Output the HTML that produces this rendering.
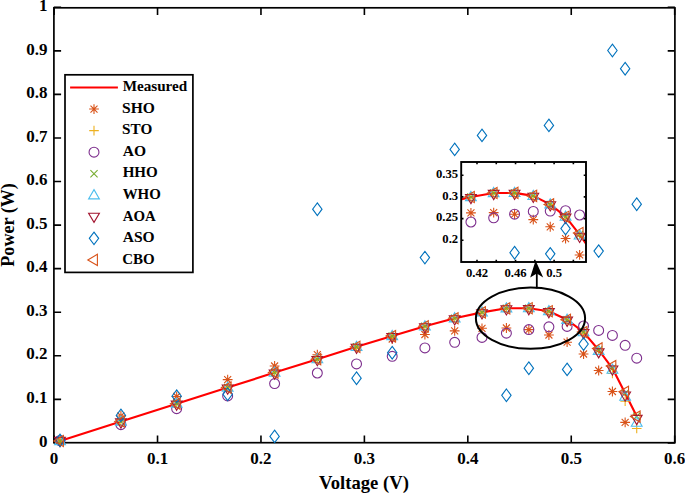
<!DOCTYPE html>
<html><head><meta charset="utf-8"><title>PV curve</title>
<style>html,body{margin:0;padding:0;background:#fff;}body{width:685px;height:495px;overflow:hidden;font-family:"Liberation Serif",serif;}svg{display:block;}</style>
</head><body>
<svg width="685" height="495" viewBox="0 0 685 495">
<rect width="685" height="495" fill="#fff"/>
<path d="M54.1 442.7V435.5M54.1 7.8V15M157.53 442.7V435.5M157.53 7.8V15M260.96 442.7V435.5M260.96 7.8V15M364.39 442.7V435.5M364.39 7.8V15M467.82 442.7V435.5M467.82 7.8V15M571.25 442.7V435.5M571.25 7.8V15M674.68 442.7V435.5M674.68 7.8V15M53.9 442.9H61.1M674.9 442.9H667.7M53.9 399.34H61.1M674.9 399.34H667.7M53.9 355.78H61.1M674.9 355.78H667.7M53.9 312.22H61.1M674.9 312.22H667.7M53.9 268.66H61.1M674.9 268.66H667.7M53.9 225.1H61.1M674.9 225.1H667.7M53.9 181.54H61.1M674.9 181.54H667.7M53.9 137.98H61.1M674.9 137.98H667.7M53.9 94.42H61.1M674.9 94.42H667.7M53.9 50.86H61.1M674.9 50.86H667.7M53.9 7.3H61.1M674.9 7.3H667.7" stroke="#000" stroke-width="1.6" fill="none"/>
<rect x="53.9" y="7.8" width="621" height="434.9" fill="none" stroke="#000" stroke-width="1.7"/>
<g font-family="Liberation Serif" font-weight="bold" font-size="17" fill="#000"><text x="47.5" y="446.6" text-anchor="end">0</text><text x="47.5" y="403.04" text-anchor="end">0.1</text><text x="47.5" y="359.48" text-anchor="end">0.2</text><text x="47.5" y="315.92" text-anchor="end">0.3</text><text x="47.5" y="272.36" text-anchor="end">0.4</text><text x="47.5" y="228.8" text-anchor="end">0.5</text><text x="47.5" y="185.24" text-anchor="end">0.6</text><text x="47.5" y="141.68" text-anchor="end">0.7</text><text x="47.5" y="98.12" text-anchor="end">0.8</text><text x="47.5" y="54.56" text-anchor="end">0.9</text><text x="47.5" y="11" text-anchor="end">1</text><text x="54.1" y="464.1" text-anchor="middle">0</text><text x="157.53" y="464.1" text-anchor="middle">0.1</text><text x="260.96" y="464.1" text-anchor="middle">0.2</text><text x="364.39" y="464.1" text-anchor="middle">0.3</text><text x="467.82" y="464.1" text-anchor="middle">0.4</text><text x="571.25" y="464.1" text-anchor="middle">0.5</text><text x="674.68" y="464.1" text-anchor="middle">0.6</text></g>
<g font-family="Liberation Serif" font-weight="bold" fill="#000"><text transform="translate(318.99 489.40) scale(1.0426 1)" font-size="17.9">Voltage (V)</text><text transform="translate(14.30 266.71) rotate(-90) scale(1.0109 1)" font-size="17.9">Power (W)</text></g>
<polyline points="60,441.01 120.92,421.51 176.66,403.72 227.66,387.57 274.61,372.6 317.33,359.15 356.53,346.86 392.21,336.03 424.9,326.32 454.68,318.31 481.99,312.35 506.4,308.32 528.84,308.21 548.91,311.2 567.11,319.76 583.56,332.08 598.66,349.99 612.42,368.28 625.14,393.29 636.72,416.2" fill="none" stroke="#FF0000" stroke-width="2.1" stroke-linejoin="round"/>
<g fill="none" stroke-width="1.1"><path d="M55.1 440.5H64.9M60 435.6V445.4M56.5 437L63.5 444M56.5 444L63.5 437" stroke="#D95319"/><path d="M116.02 416H125.82M120.92 411.1V420.9M117.42 412.5L124.42 419.5M117.42 419.5L124.42 412.5" stroke="#D95319"/><path d="M171.76 396.5H181.56M176.66 391.6V401.4M173.16 393L180.16 400M173.16 400L180.16 393" stroke="#D95319"/><path d="M222.76 379.6H232.56M227.66 374.7V384.5M224.16 376.1L231.16 383.1M224.16 383.1L231.16 376.1" stroke="#D95319"/><path d="M269.71 366H279.51M274.61 361.1V370.9M271.11 362.5L278.11 369.5M271.11 369.5L278.11 362.5" stroke="#D95319"/><path d="M312.43 354.7H322.23M317.33 349.8V359.6M313.83 351.2L320.83 358.2M313.83 358.2L320.83 351.2" stroke="#D95319"/><path d="M351.63 347.1H361.43M356.53 342.2V352M353.03 343.6L360.03 350.6M353.03 350.6L360.03 343.6" stroke="#D95319"/><path d="M387.31 339H397.11M392.21 334.1V343.9M388.71 335.5L395.71 342.5M388.71 342.5L395.71 335.5" stroke="#D95319"/><path d="M420 334.5H429.8M424.9 329.6V339.4M421.4 331L428.4 338M421.4 338L428.4 331" stroke="#D95319"/><path d="M449.78 330.9H459.58M454.68 326V335.8M451.18 327.4L458.18 334.4M451.18 334.4L458.18 327.4" stroke="#D95319"/><path d="M477.09 328.3H486.89M481.99 323.4V333.2M478.49 324.8L485.49 331.8M478.49 331.8L485.49 324.8" stroke="#D95319"/><path d="M501.5 328H511.3M506.4 323.1V332.9M502.9 324.5L509.9 331.5M502.9 331.5L509.9 324.5" stroke="#D95319"/><path d="M523.94 329.6H533.74M528.84 324.7V334.5M525.34 326.1L532.34 333.1M525.34 333.1L532.34 326.1" stroke="#D95319"/><path d="M544.01 335H553.81M548.91 330.1V339.9M545.41 331.5L552.41 338.5M545.41 338.5L552.41 331.5" stroke="#D95319"/><path d="M562.21 342.2H572.01M567.11 337.3V347.1M563.61 338.7L570.61 345.7M563.61 345.7L570.61 338.7" stroke="#D95319"/><path d="M578.66 354H588.46M583.56 349.1V358.9M580.06 350.5L587.06 357.5M580.06 357.5L587.06 350.5" stroke="#D95319"/><path d="M593.76 370.5H603.56M598.66 365.6V375.4M595.16 367L602.16 374M595.16 374L602.16 367" stroke="#D95319"/><path d="M607.52 391.5H617.32M612.42 386.6V396.4M608.92 388L615.92 395M608.92 395L615.92 388" stroke="#D95319"/><path d="M620.24 422.4H630.04M625.14 417.5V427.3M621.64 418.9L628.64 425.9M621.64 425.9L628.64 418.9" stroke="#D95319"/></g>
<g fill="none" stroke-width="1.1"><path d="M55.2 441.01H64.8M60 436.21V445.81" stroke="#EDB120"/><path d="M116.12 421.51H125.72M120.92 416.71V426.31" stroke="#EDB120"/><path d="M171.86 403.72H181.46M176.66 398.92V408.52" stroke="#EDB120"/><path d="M222.86 387.57H232.46M227.66 382.77V392.37" stroke="#EDB120"/><path d="M269.81 372.6H279.41M274.61 367.8V377.4" stroke="#EDB120"/><path d="M312.53 359.15H322.13M317.33 354.35V363.95" stroke="#EDB120"/><path d="M351.73 346.86H361.33M356.53 342.06V351.66" stroke="#EDB120"/><path d="M387.41 336.03H397.01M392.21 331.23V340.83" stroke="#EDB120"/><path d="M420.1 326.32H429.7M424.9 321.52V331.12" stroke="#EDB120"/><path d="M449.88 318.31H459.48M454.68 313.51V323.11" stroke="#EDB120"/><path d="M477.19 312.35H486.79M481.99 307.55V317.15" stroke="#EDB120"/><path d="M501.6 308.32H511.2M506.4 303.52V313.12" stroke="#EDB120"/><path d="M524.04 308.21H533.64M528.84 303.41V313.01" stroke="#EDB120"/><path d="M544.11 311.2H553.71M548.91 306.4V316" stroke="#EDB120"/><path d="M562.31 319.76H571.91M567.11 314.96V324.56" stroke="#EDB120"/><path d="M578.76 332.08H588.36M583.56 327.28V336.88" stroke="#EDB120"/><path d="M593.86 349.99H603.46M598.66 345.19V354.79" stroke="#EDB120"/><path d="M607.62 373.5H617.22M612.42 368.7V378.3" stroke="#EDB120"/><path d="M620.34 401.3H629.94M625.14 396.5V406.1" stroke="#EDB120"/><path d="M631.92 428.5H641.52M636.72 423.7V433.3" stroke="#EDB120"/></g>
<g fill="none" stroke-width="1.1"><circle cx="60" cy="440.5" r="4.95" stroke="#7E2F8E"/><circle cx="120.92" cy="424.7" r="4.95" stroke="#7E2F8E"/><circle cx="176.66" cy="408.7" r="4.95" stroke="#7E2F8E"/><circle cx="227.66" cy="395.9" r="4.95" stroke="#7E2F8E"/><circle cx="274.61" cy="383.6" r="4.95" stroke="#7E2F8E"/><circle cx="317.33" cy="373" r="4.95" stroke="#7E2F8E"/><circle cx="356.53" cy="363.9" r="4.95" stroke="#7E2F8E"/><circle cx="392.21" cy="356.3" r="4.95" stroke="#7E2F8E"/><circle cx="424.9" cy="347.9" r="4.95" stroke="#7E2F8E"/><circle cx="454.68" cy="342.3" r="4.95" stroke="#7E2F8E"/><circle cx="481.99" cy="337.4" r="4.95" stroke="#7E2F8E"/><circle cx="506.4" cy="333.2" r="4.95" stroke="#7E2F8E"/><circle cx="528.84" cy="329.6" r="4.95" stroke="#7E2F8E"/><circle cx="548.91" cy="326.8" r="4.95" stroke="#7E2F8E"/><circle cx="567.11" cy="326.4" r="4.95" stroke="#7E2F8E"/><circle cx="583.56" cy="326" r="4.95" stroke="#7E2F8E"/><circle cx="598.66" cy="330.4" r="4.95" stroke="#7E2F8E"/><circle cx="612.42" cy="335.4" r="4.95" stroke="#7E2F8E"/><circle cx="625.14" cy="345.3" r="4.95" stroke="#7E2F8E"/><circle cx="636.72" cy="358.2" r="4.95" stroke="#7E2F8E"/></g>
<g fill="none" stroke-width="1.1"><path d="M56.4 437.41L63.6 444.61M56.4 444.61L63.6 437.41" stroke="#77AC30"/><path d="M117.32 417.91L124.52 425.11M117.32 425.11L124.52 417.91" stroke="#77AC30"/><path d="M173.06 400.12L180.26 407.32M173.06 407.32L180.26 400.12" stroke="#77AC30"/><path d="M224.06 383.97L231.26 391.17M224.06 391.17L231.26 383.97" stroke="#77AC30"/><path d="M271.01 369L278.21 376.2M271.01 376.2L278.21 369" stroke="#77AC30"/><path d="M313.73 355.55L320.93 362.75M313.73 362.75L320.93 355.55" stroke="#77AC30"/><path d="M352.93 343.26L360.13 350.46M352.93 350.46L360.13 343.26" stroke="#77AC30"/><path d="M388.61 332.43L395.81 339.63M388.61 339.63L395.81 332.43" stroke="#77AC30"/><path d="M421.3 322.72L428.5 329.92M421.3 329.92L428.5 322.72" stroke="#77AC30"/><path d="M451.08 314.71L458.28 321.91M451.08 321.91L458.28 314.71" stroke="#77AC30"/><path d="M478.39 308.75L485.59 315.95M478.39 315.95L485.59 308.75" stroke="#77AC30"/><path d="M502.8 304.72L510 311.92M502.8 311.92L510 304.72" stroke="#77AC30"/><path d="M525.24 304.61L532.44 311.81M525.24 311.81L532.44 304.61" stroke="#77AC30"/><path d="M545.31 307.6L552.51 314.8M545.31 314.8L552.51 307.6" stroke="#77AC30"/><path d="M563.51 316.16L570.71 323.36M563.51 323.36L570.71 316.16" stroke="#77AC30"/><path d="M579.96 328.48L587.16 335.68M579.96 335.68L587.16 328.48" stroke="#77AC30"/><path d="M595.06 346.39L602.26 353.59M595.06 353.59L602.26 346.39" stroke="#77AC30"/><path d="M608.82 364.68L616.02 371.88M608.82 371.88L616.02 364.68" stroke="#77AC30"/><path d="M621.54 389.69L628.74 396.89M621.54 396.89L628.74 389.69" stroke="#77AC30"/><path d="M633.12 412.6L640.32 419.8M633.12 419.8L640.32 412.6" stroke="#77AC30"/></g>
<g fill="none" stroke-width="1.1"><path d="M60 435.41L65.4 444.61L54.6 444.61Z" stroke="#4DBEEE"/><path d="M120.92 415.91L126.32 425.11L115.52 425.11Z" stroke="#4DBEEE"/><path d="M176.66 398.12L182.06 407.32L171.26 407.32Z" stroke="#4DBEEE"/><path d="M227.66 381.97L233.06 391.17L222.26 391.17Z" stroke="#4DBEEE"/><path d="M274.61 367L280.01 376.2L269.21 376.2Z" stroke="#4DBEEE"/><path d="M317.33 353.55L322.73 362.75L311.93 362.75Z" stroke="#4DBEEE"/><path d="M356.53 341.26L361.93 350.46L351.13 350.46Z" stroke="#4DBEEE"/><path d="M392.21 330.43L397.61 339.63L386.81 339.63Z" stroke="#4DBEEE"/><path d="M424.9 320.72L430.3 329.92L419.5 329.92Z" stroke="#4DBEEE"/><path d="M454.68 312.71L460.08 321.91L449.28 321.91Z" stroke="#4DBEEE"/><path d="M481.99 306.75L487.39 315.95L476.59 315.95Z" stroke="#4DBEEE"/><path d="M506.4 302.72L511.8 311.92L501 311.92Z" stroke="#4DBEEE"/><path d="M528.84 302.61L534.24 311.81L523.44 311.81Z" stroke="#4DBEEE"/><path d="M548.91 305.6L554.31 314.8L543.51 314.8Z" stroke="#4DBEEE"/><path d="M567.11 314.16L572.51 323.36L561.71 323.36Z" stroke="#4DBEEE"/><path d="M583.56 326.48L588.96 335.68L578.16 335.68Z" stroke="#4DBEEE"/><path d="M598.66 345.2L604.06 354.4L593.26 354.4Z" stroke="#4DBEEE"/><path d="M612.42 364L617.82 373.2L607.02 373.2Z" stroke="#4DBEEE"/><path d="M625.14 391.1L630.54 400.3L619.74 400.3Z" stroke="#4DBEEE"/><path d="M636.72 417L642.12 426.2L631.32 426.2Z" stroke="#4DBEEE"/></g>
<g fill="none" stroke-width="1.1"><path d="M60 446.61L65.4 437.41L54.6 437.41Z" stroke="#A2142F"/><path d="M120.92 428.11L126.32 418.91L115.52 418.91Z" stroke="#A2142F"/><path d="M176.66 410.32L182.06 401.12L171.26 401.12Z" stroke="#A2142F"/><path d="M227.66 394.17L233.06 384.97L222.26 384.97Z" stroke="#A2142F"/><path d="M274.61 379.2L280.01 370L269.21 370Z" stroke="#A2142F"/><path d="M317.33 365.75L322.73 356.55L311.93 356.55Z" stroke="#A2142F"/><path d="M356.53 353.46L361.93 344.26L351.13 344.26Z" stroke="#A2142F"/><path d="M392.21 342.63L397.61 333.43L386.81 333.43Z" stroke="#A2142F"/><path d="M424.9 332.92L430.3 323.72L419.5 323.72Z" stroke="#A2142F"/><path d="M454.68 324.91L460.08 315.71L449.28 315.71Z" stroke="#A2142F"/><path d="M481.99 318.95L487.39 309.75L476.59 309.75Z" stroke="#A2142F"/><path d="M506.4 314.92L511.8 305.72L501 305.72Z" stroke="#A2142F"/><path d="M528.84 314.81L534.24 305.61L523.44 305.61Z" stroke="#A2142F"/><path d="M548.91 317.8L554.31 308.6L543.51 308.6Z" stroke="#A2142F"/><path d="M567.11 326.36L572.51 317.16L561.71 317.16Z" stroke="#A2142F"/><path d="M583.56 338.68L588.96 329.48L578.16 329.48Z" stroke="#A2142F"/><path d="M598.66 357.9L604.06 348.7L593.26 348.7Z" stroke="#A2142F"/><path d="M612.42 375.2L617.82 366L607.02 366Z" stroke="#A2142F"/><path d="M625.14 401.2L630.54 392L619.74 392Z" stroke="#A2142F"/><path d="M636.72 424.6L642.12 415.4L631.32 415.4Z" stroke="#A2142F"/></g>
<g fill="none" stroke-width="1.1"><path d="M60 434.1L64.7 440.4L60 446.7L55.3 440.4Z" stroke="#0072BD"/><path d="M120.92 409.1L125.62 415.4L120.92 421.7L116.22 415.4Z" stroke="#0072BD"/><path d="M176.66 389.9L181.36 396.2L176.66 402.5L171.96 396.2Z" stroke="#0072BD"/><path d="M227.66 388L232.36 394.3L227.66 400.6L222.96 394.3Z" stroke="#0072BD"/><path d="M274.61 430.1L279.31 436.4L274.61 442.7L269.91 436.4Z" stroke="#0072BD"/><path d="M317.33 202.9L322.03 209.2L317.33 215.5L312.63 209.2Z" stroke="#0072BD"/><path d="M356.53 371.9L361.23 378.2L356.53 384.5L351.83 378.2Z" stroke="#0072BD"/><path d="M392.21 346.4L396.91 352.7L392.21 359L387.51 352.7Z" stroke="#0072BD"/><path d="M424.9 251.3L429.6 257.6L424.9 263.9L420.2 257.6Z" stroke="#0072BD"/><path d="M454.68 143.1L459.38 149.4L454.68 155.7L449.98 149.4Z" stroke="#0072BD"/><path d="M481.99 129.1L486.69 135.4L481.99 141.7L477.29 135.4Z" stroke="#0072BD"/><path d="M506.4 389L511.1 395.3L506.4 401.6L501.7 395.3Z" stroke="#0072BD"/><path d="M528.84 361.9L533.54 368.2L528.84 374.5L524.14 368.2Z" stroke="#0072BD"/><path d="M548.91 119.1L553.61 125.4L548.91 131.7L544.21 125.4Z" stroke="#0072BD"/><path d="M567.11 363.1L571.81 369.4L567.11 375.7L562.41 369.4Z" stroke="#0072BD"/><path d="M583.56 337.7L588.26 344L583.56 350.3L578.86 344Z" stroke="#0072BD"/><path d="M598.66 244.8L603.36 251.1L598.66 257.4L593.96 251.1Z" stroke="#0072BD"/><path d="M612.42 44.2L617.12 50.5L612.42 56.8L607.72 50.5Z" stroke="#0072BD"/><path d="M625.14 62.4L629.84 68.7L625.14 75L620.44 68.7Z" stroke="#0072BD"/><path d="M636.72 197.9L641.42 204.2L636.72 210.5L632.02 204.2Z" stroke="#0072BD"/></g>
<g fill="none" stroke-width="1.1"><path d="M53.8 441.01L63.4 435.41L63.4 446.61Z" stroke="#D95319"/><path d="M114.72 421.51L124.32 415.91L124.32 427.11Z" stroke="#D95319"/><path d="M170.46 403.72L180.06 398.12L180.06 409.32Z" stroke="#D95319"/><path d="M221.46 387.57L231.06 381.97L231.06 393.17Z" stroke="#D95319"/><path d="M268.41 372.6L278.01 367L278.01 378.2Z" stroke="#D95319"/><path d="M311.13 359.15L320.73 353.55L320.73 364.75Z" stroke="#D95319"/><path d="M350.33 346.86L359.93 341.26L359.93 352.46Z" stroke="#D95319"/><path d="M386.01 336.03L395.61 330.43L395.61 341.63Z" stroke="#D95319"/><path d="M418.7 326.32L428.3 320.72L428.3 331.92Z" stroke="#D95319"/><path d="M448.48 318.31L458.08 312.71L458.08 323.91Z" stroke="#D95319"/><path d="M475.79 312.35L485.39 306.75L485.39 317.95Z" stroke="#D95319"/><path d="M500.2 308.32L509.8 302.72L509.8 313.92Z" stroke="#D95319"/><path d="M522.64 308.21L532.24 302.61L532.24 313.81Z" stroke="#D95319"/><path d="M542.71 311.2L552.31 305.6L552.31 316.8Z" stroke="#D95319"/><path d="M560.91 319.76L570.51 314.16L570.51 325.36Z" stroke="#D95319"/><path d="M577.36 332.08L586.96 326.48L586.96 337.68Z" stroke="#D95319"/><path d="M592.46 348.4L602.06 342.8L602.06 354Z" stroke="#D95319"/><path d="M606.22 366L615.82 360.4L615.82 371.6Z" stroke="#D95319"/><path d="M618.94 391.8L628.54 386.2L628.54 397.4Z" stroke="#D95319"/><path d="M630.52 416.6L640.12 411L640.12 422.2Z" stroke="#D95319"/></g>
<rect x="65.0" y="74.8" width="127.9" height="197.6" fill="#fff" stroke="#000" stroke-width="1.7"/>
<line x1="70.1" y1="87.5" x2="117.9" y2="87.5" stroke="#FF0000" stroke-width="2.1"/>
<g fill="none" stroke-width="1.1"><path d="M89.1 109.05H98.9M94 104.15V113.95M90.5 105.55L97.5 112.55M90.5 112.55L97.5 105.55" stroke="#D95319"/><path d="M89.2 130.6H98.8M94 125.8V135.4" stroke="#EDB120"/><circle cx="94" cy="152.15" r="4.95" stroke="#7E2F8E"/><path d="M90.4 170.1L97.6 177.3M90.4 177.3L97.6 170.1" stroke="#77AC30"/><path d="M94 189.65L99.4 198.85L88.6 198.85Z" stroke="#4DBEEE"/><path d="M94 222.4L99.4 213.2L88.6 213.2Z" stroke="#A2142F"/><path d="M94 232.05L98.7 238.35L94 244.65L89.3 238.35Z" stroke="#0072BD"/><path d="M87.8 259.9L97.4 254.3L97.4 265.5Z" stroke="#D95319"/></g>
<g font-family="Liberation Serif" font-weight="bold" fill="#000"><text transform="translate(122.64 91.20) scale(1.0398 1)" font-size="14.6">Measured</text><text transform="translate(122.07 112.75) scale(1.0667 1)" font-size="14.6">SHO</text><text transform="translate(122.09 134.30) scale(1.0424 1)" font-size="14.6">STO</text><text transform="translate(122.75 155.85) scale(1.0644 1)" font-size="14.6">AO</text><text transform="translate(122.64 177.40) scale(1.0330 1)" font-size="14.6">HHO</text><text transform="translate(122.69 198.95) scale(1.0222 1)" font-size="14.6">WHO</text><text transform="translate(122.75 220.50) scale(1.0188 1)" font-size="14.6">AOA</text><text transform="translate(122.75 242.05) scale(1.0629 1)" font-size="14.6">ASO</text><text transform="translate(122.17 263.60) scale(1.0261 1)" font-size="14.6">CBO</text></g>
<defs><clipPath id="ic"><rect x="461.2" y="162.0" width="124.8" height="100"/></clipPath></defs>
<rect x="461.2" y="162.0" width="124.8" height="100" fill="#fff"/>
<g clip-path="url(#ic)"><polyline points="77.74,325.22 134.5,305.79 186.44,288.07 233.95,271.97 277.71,257.06 317.51,243.65 354.03,231.42 387.28,220.62 417.73,210.95 445.49,202.97 470.93,197.03 493.67,193.01 514.58,192.91 533.28,195.88 550.24,204.41 565.56,216.69 579.63,234.53 592.45,252.76 604.3,277.67 615.1,300.5" fill="none" stroke="#FF0000" stroke-width="2.1" stroke-linejoin="round"/>
<g fill="none" stroke-width="1.1"><path d="M72.84 324.71H82.64M77.74 319.81V329.61M74.24 321.21L81.24 328.21M74.24 328.21L81.24 321.21" stroke="#D95319"/><path d="M129.6 300.3H139.4M134.5 295.4V305.2M131 296.8L138 303.8M131 303.8L138 296.8" stroke="#D95319"/><path d="M181.54 280.87H191.34M186.44 275.97V285.77M182.94 277.37L189.94 284.37M182.94 284.37L189.94 277.37" stroke="#D95319"/><path d="M229.05 264.03H238.85M233.95 259.13V268.93M230.45 260.53L237.45 267.53M230.45 267.53L237.45 260.53" stroke="#D95319"/><path d="M272.81 250.48H282.61M277.71 245.58V255.38M274.21 246.98L281.21 253.98M274.21 253.98L281.21 246.98" stroke="#D95319"/><path d="M312.61 239.22H322.41M317.51 234.32V244.12M314.01 235.72L321.01 242.72M314.01 242.72L321.01 235.72" stroke="#D95319"/><path d="M349.13 231.65H358.93M354.03 226.75V236.55M350.53 228.15L357.53 235.15M350.53 235.15L357.53 228.15" stroke="#D95319"/><path d="M382.38 223.58H392.18M387.28 218.68V228.48M383.78 220.08L390.78 227.08M383.78 227.08L390.78 220.08" stroke="#D95319"/><path d="M412.83 219.1H422.63M417.73 214.2V224M414.23 215.6L421.23 222.6M414.23 222.6L421.23 215.6" stroke="#D95319"/><path d="M440.59 215.51H450.39M445.49 210.61V220.41M441.99 212.01L448.99 219.01M441.99 219.01L448.99 212.01" stroke="#D95319"/><path d="M466.03 212.92H475.83M470.93 208.02V217.82M467.43 209.42L474.43 216.42M467.43 216.42L474.43 209.42" stroke="#D95319"/><path d="M488.77 212.62H498.57M493.67 207.72V217.52M490.17 209.12L497.17 216.12M490.17 216.12L497.17 209.12" stroke="#D95319"/><path d="M509.68 214.22H519.48M514.58 209.32V219.12M511.08 210.72L518.08 217.72M511.08 217.72L518.08 210.72" stroke="#D95319"/><path d="M528.38 219.6H538.18M533.28 214.7V224.5M529.78 216.1L536.78 223.1M529.78 223.1L536.78 216.1" stroke="#D95319"/><path d="M545.34 226.77H555.14M550.24 221.87V231.67M546.74 223.27L553.74 230.27M546.74 230.27L553.74 223.27" stroke="#D95319"/><path d="M560.66 238.53H570.46M565.56 233.63V243.43M562.06 235.03L569.06 242.03M562.06 242.03L569.06 235.03" stroke="#D95319"/><path d="M574.73 254.97H584.53M579.63 250.07V259.87M576.13 251.47L583.13 258.47M576.13 258.47L583.13 251.47" stroke="#D95319"/><path d="M587.55 275.89H597.35M592.45 270.99V280.79M588.95 272.39L595.95 279.39M588.95 279.39L595.95 272.39" stroke="#D95319"/><path d="M599.4 306.68H609.2M604.3 301.78V311.58M600.8 303.18L607.8 310.18M600.8 310.18L607.8 303.18" stroke="#D95319"/></g>
<g fill="none" stroke-width="1.1"><path d="M72.94 325.22H82.54M77.74 320.42V330.02" stroke="#EDB120"/><path d="M129.7 305.79H139.3M134.5 300.99V310.59" stroke="#EDB120"/><path d="M181.64 288.07H191.24M186.44 283.27V292.87" stroke="#EDB120"/><path d="M229.15 271.97H238.75M233.95 267.17V276.77" stroke="#EDB120"/><path d="M272.91 257.06H282.51M277.71 252.26V261.86" stroke="#EDB120"/><path d="M312.71 243.65H322.31M317.51 238.85V248.45" stroke="#EDB120"/><path d="M349.23 231.42H358.83M354.03 226.62V236.22" stroke="#EDB120"/><path d="M382.48 220.62H392.08M387.28 215.82V225.42" stroke="#EDB120"/><path d="M412.93 210.95H422.53M417.73 206.15V215.75" stroke="#EDB120"/><path d="M440.69 202.97H450.29M445.49 198.17V207.77" stroke="#EDB120"/><path d="M466.13 197.03H475.73M470.93 192.23V201.83" stroke="#EDB120"/><path d="M488.87 193.01H498.47M493.67 188.21V197.81" stroke="#EDB120"/><path d="M509.78 192.91H519.38M514.58 188.11V197.71" stroke="#EDB120"/><path d="M528.48 195.88H538.08M533.28 191.08V200.68" stroke="#EDB120"/><path d="M545.44 204.41H555.04M550.24 199.61V209.21" stroke="#EDB120"/><path d="M560.76 216.69H570.36M565.56 211.89V221.49" stroke="#EDB120"/><path d="M574.83 234.53H584.43M579.63 229.73V239.33" stroke="#EDB120"/><path d="M587.65 257.95H597.25M592.45 253.15V262.75" stroke="#EDB120"/><path d="M599.5 285.65H609.1M604.3 280.85V290.45" stroke="#EDB120"/><path d="M610.3 312.75H619.9M615.1 307.95V317.55" stroke="#EDB120"/></g>
<g fill="none" stroke-width="1.1"><circle cx="77.74" cy="324.71" r="4.95" stroke="#7E2F8E"/><circle cx="134.5" cy="308.97" r="4.95" stroke="#7E2F8E"/><circle cx="186.44" cy="293.03" r="4.95" stroke="#7E2F8E"/><circle cx="233.95" cy="280.27" r="4.95" stroke="#7E2F8E"/><circle cx="277.71" cy="268.02" r="4.95" stroke="#7E2F8E"/><circle cx="317.51" cy="257.46" r="4.95" stroke="#7E2F8E"/><circle cx="354.03" cy="248.39" r="4.95" stroke="#7E2F8E"/><circle cx="387.28" cy="240.82" r="4.95" stroke="#7E2F8E"/><circle cx="417.73" cy="232.45" r="4.95" stroke="#7E2F8E"/><circle cx="445.49" cy="226.87" r="4.95" stroke="#7E2F8E"/><circle cx="470.93" cy="221.99" r="4.95" stroke="#7E2F8E"/><circle cx="493.67" cy="217.8" r="4.95" stroke="#7E2F8E"/><circle cx="514.58" cy="214.22" r="4.95" stroke="#7E2F8E"/><circle cx="533.28" cy="211.43" r="4.95" stroke="#7E2F8E"/><circle cx="550.24" cy="211.03" r="4.95" stroke="#7E2F8E"/><circle cx="565.56" cy="210.63" r="4.95" stroke="#7E2F8E"/><circle cx="579.63" cy="215.01" r="4.95" stroke="#7E2F8E"/><circle cx="592.45" cy="219.99" r="4.95" stroke="#7E2F8E"/><circle cx="604.3" cy="229.86" r="4.95" stroke="#7E2F8E"/><circle cx="615.1" cy="242.71" r="4.95" stroke="#7E2F8E"/></g>
<g fill="none" stroke-width="1.1"><path d="M74.14 321.62L81.34 328.82M74.14 328.82L81.34 321.62" stroke="#77AC30"/><path d="M130.9 302.19L138.1 309.39M130.9 309.39L138.1 302.19" stroke="#77AC30"/><path d="M182.84 284.47L190.04 291.67M182.84 291.67L190.04 284.47" stroke="#77AC30"/><path d="M230.35 268.37L237.55 275.57M230.35 275.57L237.55 268.37" stroke="#77AC30"/><path d="M274.11 253.46L281.31 260.66M274.11 260.66L281.31 253.46" stroke="#77AC30"/><path d="M313.91 240.05L321.11 247.25M313.91 247.25L321.11 240.05" stroke="#77AC30"/><path d="M350.43 227.82L357.63 235.02M350.43 235.02L357.63 227.82" stroke="#77AC30"/><path d="M383.68 217.02L390.88 224.22M383.68 224.22L390.88 217.02" stroke="#77AC30"/><path d="M414.13 207.35L421.33 214.55M414.13 214.55L421.33 207.35" stroke="#77AC30"/><path d="M441.89 199.37L449.09 206.57M441.89 206.57L449.09 199.37" stroke="#77AC30"/><path d="M467.33 193.43L474.53 200.63M467.33 200.63L474.53 193.43" stroke="#77AC30"/><path d="M490.07 189.41L497.27 196.61M490.07 196.61L497.27 189.41" stroke="#77AC30"/><path d="M510.98 189.31L518.18 196.51M510.98 196.51L518.18 189.31" stroke="#77AC30"/><path d="M529.68 192.28L536.88 199.48M529.68 199.48L536.88 192.28" stroke="#77AC30"/><path d="M546.64 200.81L553.84 208.01M546.64 208.01L553.84 200.81" stroke="#77AC30"/><path d="M561.96 213.09L569.16 220.29M561.96 220.29L569.16 213.09" stroke="#77AC30"/><path d="M576.03 230.93L583.23 238.13M576.03 238.13L583.23 230.93" stroke="#77AC30"/><path d="M588.85 249.16L596.05 256.36M588.85 256.36L596.05 249.16" stroke="#77AC30"/><path d="M600.7 274.07L607.9 281.27M600.7 281.27L607.9 274.07" stroke="#77AC30"/><path d="M611.5 296.9L618.7 304.1M611.5 304.1L618.7 296.9" stroke="#77AC30"/></g>
<g fill="none" stroke-width="1.1"><path d="M77.74 319.62L83.14 328.82L72.34 328.82Z" stroke="#4DBEEE"/><path d="M134.5 300.19L139.9 309.39L129.1 309.39Z" stroke="#4DBEEE"/><path d="M186.44 282.47L191.84 291.67L181.04 291.67Z" stroke="#4DBEEE"/><path d="M233.95 266.37L239.35 275.57L228.55 275.57Z" stroke="#4DBEEE"/><path d="M277.71 251.46L283.11 260.66L272.31 260.66Z" stroke="#4DBEEE"/><path d="M317.51 238.05L322.91 247.25L312.11 247.25Z" stroke="#4DBEEE"/><path d="M354.03 225.82L359.43 235.02L348.63 235.02Z" stroke="#4DBEEE"/><path d="M387.28 215.02L392.68 224.22L381.88 224.22Z" stroke="#4DBEEE"/><path d="M417.73 205.35L423.13 214.55L412.33 214.55Z" stroke="#4DBEEE"/><path d="M445.49 197.37L450.89 206.57L440.09 206.57Z" stroke="#4DBEEE"/><path d="M470.93 191.43L476.33 200.63L465.53 200.63Z" stroke="#4DBEEE"/><path d="M493.67 187.41L499.07 196.61L488.27 196.61Z" stroke="#4DBEEE"/><path d="M514.58 187.31L519.98 196.51L509.18 196.51Z" stroke="#4DBEEE"/><path d="M533.28 190.28L538.68 199.48L527.88 199.48Z" stroke="#4DBEEE"/><path d="M550.24 198.81L555.64 208.01L544.84 208.01Z" stroke="#4DBEEE"/><path d="M565.56 211.09L570.96 220.29L560.16 220.29Z" stroke="#4DBEEE"/><path d="M579.63 229.74L585.03 238.94L574.23 238.94Z" stroke="#4DBEEE"/><path d="M592.45 248.47L597.85 257.67L587.05 257.67Z" stroke="#4DBEEE"/><path d="M604.3 275.47L609.7 284.67L598.9 284.67Z" stroke="#4DBEEE"/><path d="M615.1 301.27L620.5 310.47L609.7 310.47Z" stroke="#4DBEEE"/></g>
<g fill="none" stroke-width="1.1"><path d="M77.74 330.82L83.14 321.62L72.34 321.62Z" stroke="#A2142F"/><path d="M134.5 312.39L139.9 303.19L129.1 303.19Z" stroke="#A2142F"/><path d="M186.44 294.66L191.84 285.46L181.04 285.46Z" stroke="#A2142F"/><path d="M233.95 278.57L239.35 269.37L228.55 269.37Z" stroke="#A2142F"/><path d="M277.71 263.65L283.11 254.45L272.31 254.45Z" stroke="#A2142F"/><path d="M317.51 250.25L322.91 241.05L312.11 241.05Z" stroke="#A2142F"/><path d="M354.03 238.01L359.43 228.81L348.63 228.81Z" stroke="#A2142F"/><path d="M387.28 227.22L392.68 218.02L381.88 218.02Z" stroke="#A2142F"/><path d="M417.73 217.55L423.13 208.35L412.33 208.35Z" stroke="#A2142F"/><path d="M445.49 209.56L450.89 200.36L440.09 200.36Z" stroke="#A2142F"/><path d="M470.93 203.63L476.33 194.43L465.53 194.43Z" stroke="#A2142F"/><path d="M493.67 199.61L499.07 190.41L488.27 190.41Z" stroke="#A2142F"/><path d="M514.58 199.5L519.98 190.3L509.18 190.3Z" stroke="#A2142F"/><path d="M533.28 202.48L538.68 193.28L527.88 193.28Z" stroke="#A2142F"/><path d="M550.24 211L555.64 201.8L544.84 201.8Z" stroke="#A2142F"/><path d="M565.56 223.29L570.96 214.09L560.16 214.09Z" stroke="#A2142F"/><path d="M579.63 242.43L585.03 233.23L574.23 233.23Z" stroke="#A2142F"/><path d="M592.45 259.67L597.85 250.47L587.05 250.47Z" stroke="#A2142F"/><path d="M604.3 285.57L609.7 276.37L598.9 276.37Z" stroke="#A2142F"/><path d="M615.1 308.89L620.5 299.69L609.7 299.69Z" stroke="#A2142F"/></g>
<g fill="none" stroke-width="1.1"><path d="M77.74 318.31L82.44 324.61L77.74 330.91L73.04 324.61Z" stroke="#0072BD"/><path d="M134.5 293.4L139.2 299.7L134.5 306L129.8 299.7Z" stroke="#0072BD"/><path d="M186.44 274.27L191.14 280.57L186.44 286.87L181.74 280.57Z" stroke="#0072BD"/><path d="M233.95 272.38L238.65 278.68L233.95 284.98L229.25 278.68Z" stroke="#0072BD"/><path d="M277.71 314.32L282.41 320.62L277.71 326.92L273.01 320.62Z" stroke="#0072BD"/><path d="M317.51 87.96L322.21 94.26L317.51 100.56L312.81 94.26Z" stroke="#0072BD"/><path d="M354.03 256.34L358.73 262.64L354.03 268.94L349.33 262.64Z" stroke="#0072BD"/><path d="M387.28 230.93L391.98 237.23L387.28 243.53L382.58 237.23Z" stroke="#0072BD"/><path d="M417.73 136.18L422.43 142.48L417.73 148.78L413.03 142.48Z" stroke="#0072BD"/><path d="M445.49 28.38L450.19 34.68L445.49 40.98L440.79 34.68Z" stroke="#0072BD"/><path d="M470.93 14.43L475.63 20.73L470.93 27.03L466.23 20.73Z" stroke="#0072BD"/><path d="M493.67 273.37L498.37 279.67L493.67 285.97L488.97 279.67Z" stroke="#0072BD"/><path d="M514.58 246.37L519.28 252.67L514.58 258.97L509.88 252.67Z" stroke="#0072BD"/><path d="M533.28 4.47L537.98 10.77L533.28 17.07L528.58 10.77Z" stroke="#0072BD"/><path d="M550.24 247.57L554.94 253.87L550.24 260.17L545.54 253.87Z" stroke="#0072BD"/><path d="M565.56 222.26L570.26 228.56L565.56 234.86L560.86 228.56Z" stroke="#0072BD"/><path d="M579.63 129.7L584.33 136L579.63 142.3L574.93 136Z" stroke="#0072BD"/><path d="M592.45 -70.16L597.15 -63.86L592.45 -57.56L587.75 -63.86Z" stroke="#0072BD"/><path d="M604.3 -52.03L609 -45.73L604.3 -39.43L599.6 -45.73Z" stroke="#0072BD"/><path d="M615.1 82.98L619.8 89.28L615.1 95.58L610.4 89.28Z" stroke="#0072BD"/></g>
<g fill="none" stroke-width="1.1"><path d="M71.54 325.22L81.14 319.62L81.14 330.82Z" stroke="#D95319"/><path d="M128.3 305.79L137.9 300.19L137.9 311.39Z" stroke="#D95319"/><path d="M180.24 288.07L189.84 282.47L189.84 293.67Z" stroke="#D95319"/><path d="M227.75 271.97L237.35 266.37L237.35 277.57Z" stroke="#D95319"/><path d="M271.51 257.06L281.11 251.46L281.11 262.66Z" stroke="#D95319"/><path d="M311.31 243.65L320.91 238.05L320.91 249.25Z" stroke="#D95319"/><path d="M347.83 231.42L357.43 225.82L357.43 237.02Z" stroke="#D95319"/><path d="M381.08 220.62L390.68 215.02L390.68 226.22Z" stroke="#D95319"/><path d="M411.53 210.95L421.13 205.35L421.13 216.55Z" stroke="#D95319"/><path d="M439.29 202.97L448.89 197.37L448.89 208.57Z" stroke="#D95319"/><path d="M464.73 197.03L474.33 191.43L474.33 202.63Z" stroke="#D95319"/><path d="M487.47 193.01L497.07 187.41L497.07 198.61Z" stroke="#D95319"/><path d="M508.38 192.91L517.98 187.31L517.98 198.51Z" stroke="#D95319"/><path d="M527.08 195.88L536.68 190.28L536.68 201.48Z" stroke="#D95319"/><path d="M544.04 204.41L553.64 198.81L553.64 210.01Z" stroke="#D95319"/><path d="M559.36 216.69L568.96 211.09L568.96 222.29Z" stroke="#D95319"/><path d="M573.43 232.95L583.03 227.35L583.03 238.55Z" stroke="#D95319"/><path d="M586.25 250.48L595.85 244.88L595.85 256.08Z" stroke="#D95319"/><path d="M598.1 276.19L607.7 270.59L607.7 281.79Z" stroke="#D95319"/><path d="M608.9 300.9L618.5 295.3L618.5 306.5Z" stroke="#D95319"/></g></g>
<path d="M477 262V259.7M477 162V164.3M496.27 262V259.7M496.27 162V164.3M515.55 262V259.7M515.55 162V164.3M534.82 262V259.7M534.82 162V164.3M554.1 262V259.7M554.1 162V164.3M573.37 262V259.7M573.37 162V164.3M461.2 240.3H463.5M586 240.3H583.7M461.2 218.6H463.5M586 218.6H583.7M461.2 196.9H463.5M586 196.9H583.7M461.2 175.2H463.5M586 175.2H583.7" stroke="#000" stroke-width="1.6" fill="none"/>
<rect x="461.2" y="162.0" width="124.8" height="100" fill="none" stroke="#000" stroke-width="1.9"/>
<g font-family="Liberation Serif" font-weight="bold" font-size="12.7" fill="#000"><text x="458.2" y="243.1" text-anchor="end">0.2</text><text x="458.2" y="221.4" text-anchor="end">0.25</text><text x="458.2" y="199.7" text-anchor="end">0.3</text><text x="458.2" y="178" text-anchor="end">0.35</text><text x="477" y="277.0" text-anchor="middle">0.42</text><text x="515.55" y="277.0" text-anchor="middle">0.46</text><text x="554.1" y="277.0" text-anchor="middle">0.5</text></g>
<ellipse cx="530.5" cy="318.2" rx="54.6" ry="30.6" fill="none" stroke="#000" stroke-width="2"/>
<line x1="536.8" y1="288.5" x2="536.8" y2="272" stroke="#000" stroke-width="1.8"/>
<path d="M535.6 260.4L543.2 277.6L536.8 273.6L530.2 277.6Z" fill="#000"/>
</svg>
</body></html>
